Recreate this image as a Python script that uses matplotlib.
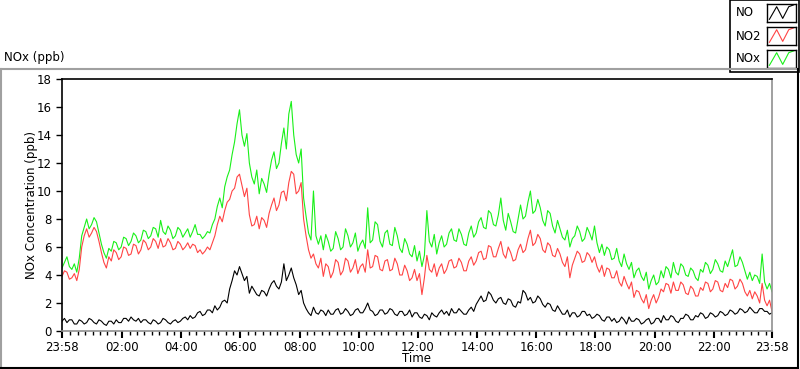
import matplotlib
matplotlib.use("Agg")
import matplotlib.pyplot as plt
import numpy as np
from matplotlib.lines import Line2D
from matplotlib.patches import Rectangle

# readings every 5 minutes, starting 23:58
no_ppb = [0.7, 0.9, 0.6, 0.8, 0.8, 0.5, 0.5, 0.8, 0.7, 0.5,
          0.6, 0.9, 0.8, 0.6, 0.5, 0.8, 0.7, 0.5, 0.4, 0.7,
          0.7, 0.5, 0.8, 0.6, 0.6, 0.9, 0.9, 0.7, 1.0, 0.8,
          0.7, 0.9, 0.6, 0.8, 0.8, 0.6, 0.5, 0.8, 0.7, 0.5,
          0.6, 0.9, 0.8, 0.6, 0.5, 0.7, 0.8, 0.6, 0.7, 0.9,
          1.0, 0.8, 1.1, 0.9, 1.0, 1.3, 1.4, 1.1, 1.2, 1.5,
          1.5, 1.3, 1.8, 1.5, 1.7, 2.1, 2.2, 2.0, 3.0, 3.6,
          4.3, 4.0, 4.6, 4.1, 3.6, 3.9, 2.7, 3.2, 2.9, 2.6,
          2.5, 2.9, 2.8, 2.5, 3.0, 3.4, 3.6, 3.2, 3.0, 3.5,
          4.8, 3.6, 4.0, 4.5, 3.8, 3.3, 2.6, 2.9, 2.0, 1.6,
          1.3, 1.1, 1.7, 1.3, 1.2, 1.5, 1.4, 1.1, 1.5, 1.2,
          1.2, 1.5, 1.6, 1.2, 1.3, 1.6, 1.4, 1.1, 1.2, 1.5,
          1.6, 1.3, 1.3, 1.6, 2.0, 1.5, 1.4, 1.1, 1.2, 1.5,
          1.5, 1.2, 1.3, 1.6, 1.5, 1.2, 1.1, 1.4, 1.4, 1.1,
          1.2, 1.5, 1.0, 1.3, 1.3, 1.0, 0.9, 1.2, 1.1, 0.8,
          1.3, 1.1, 1.0, 1.3, 1.5, 1.2, 1.4, 1.1, 1.6, 1.3,
          1.3, 1.6, 1.4, 1.2, 1.2, 1.5, 1.7, 1.4, 1.9, 2.2,
          2.5, 2.1, 2.2, 2.8, 2.6, 2.2, 2.0, 2.3, 2.4, 2.0,
          1.9, 2.3, 2.2, 1.8, 1.7, 2.1, 2.0, 2.9, 2.7, 2.2,
          2.4, 2.0, 2.1, 2.5, 2.3, 1.9, 1.7, 2.0, 1.9, 1.5,
          1.4, 1.8, 1.5, 1.2, 1.2, 1.5, 1.0, 1.3, 1.3, 1.0,
          1.1, 1.4, 1.4, 1.1, 1.2, 0.9, 1.0, 1.2, 1.1, 0.8,
          0.7, 1.0, 1.0, 0.7, 0.9, 0.6, 0.7, 1.0, 0.8, 0.5,
          1.0, 0.7, 0.7, 0.9, 0.8, 0.5, 0.6, 0.8, 0.9, 0.5,
          0.6, 0.9, 0.9, 0.6, 1.1, 0.8, 0.8, 1.1, 1.0, 0.7,
          0.6, 0.9, 0.9, 1.2, 1.1, 0.8, 0.8, 1.1, 1.0, 1.3,
          1.2, 0.9, 1.0, 1.3, 1.2, 1.0, 1.1, 1.4, 1.3, 1.1,
          1.2, 1.5, 1.4, 1.2, 1.3, 1.6, 1.5, 1.3, 1.4, 1.7,
          1.5, 1.3, 1.3, 1.6, 1.6, 1.4, 1.4, 1.2, 1.3]

no2_ppb = [3.9, 4.3, 4.2, 3.7, 3.8, 4.1, 3.6, 4.4, 6.0, 6.8,
           7.3, 6.7, 7.0, 7.4, 7.1, 6.4, 5.6, 4.9, 4.5, 5.3,
           5.0, 5.8, 5.6, 5.1, 5.3, 6.0, 5.9, 5.4, 5.5, 6.2,
           6.1, 5.5, 5.8, 6.5, 6.3, 5.8, 6.0, 6.6, 6.4, 5.9,
           6.6, 6.0, 6.1, 6.6, 6.3, 5.8, 5.9, 6.4, 6.2, 5.8,
           6.0, 6.3, 5.9, 6.2, 6.1, 5.6, 5.8, 5.5, 5.7, 6.0,
           5.8, 6.3, 6.8, 7.6, 8.2, 7.8, 8.6, 9.2, 9.4, 10.0,
           10.2, 11.0, 11.2, 10.4, 9.6, 10.2, 8.3, 7.5, 7.6, 8.2,
           7.3, 8.1, 7.9, 7.4, 8.4, 9.0, 9.5, 8.6, 9.0, 9.9,
           10.0, 9.3, 10.6, 11.4, 11.2, 9.8, 10.0, 10.6, 8.0, 6.8,
           5.8, 5.2, 5.5, 4.8, 4.5, 5.2, 3.9, 4.8, 4.6, 3.8,
           4.2, 5.1, 4.9, 4.0, 4.3, 5.2, 5.0, 4.2, 4.5, 5.1,
           4.1, 4.6, 4.8, 4.2, 5.8, 4.5, 4.6, 5.4, 5.3, 4.4,
           4.3, 5.0, 5.1, 4.3, 4.4, 5.2, 4.8, 4.0, 4.0, 4.7,
           4.3, 3.6, 3.8, 4.4, 3.6, 4.1, 2.6, 3.8, 5.4, 4.4,
           4.2, 4.8, 3.9, 4.5, 4.8, 4.1, 4.4, 5.0, 5.1, 4.5,
           4.6, 5.2, 4.9, 4.3, 4.3, 5.0, 5.3, 4.7, 5.0, 5.6,
           5.7, 5.1, 5.2, 6.1, 6.0, 5.3, 5.3, 5.9, 6.4, 5.5,
           5.2, 6.0, 5.6, 5.0, 5.1, 5.8, 6.2, 5.6, 5.8, 6.6,
           7.2, 6.1, 6.3, 6.9, 6.6, 5.8, 5.6, 6.3, 6.1, 5.4,
           5.3, 5.9, 5.5, 4.9, 4.6, 5.3, 3.8, 4.7, 5.2, 5.7,
           5.5, 4.9, 5.0, 5.6, 5.4, 4.9, 5.3, 4.6, 4.2, 4.7,
           3.9, 4.5, 4.4, 3.8, 3.8, 4.3, 3.5, 3.2, 3.9, 3.4,
           3.0, 3.5, 2.4, 2.9, 2.8, 2.3, 2.0, 2.6, 1.6, 2.2,
           2.6, 2.0, 2.4, 3.0, 2.8, 3.4, 3.3, 2.7, 3.5, 2.9,
           2.9, 3.5, 3.3, 2.7, 2.6, 3.2, 3.0, 2.5, 2.5, 3.1,
           2.9, 3.5, 3.4, 2.8, 3.0, 3.6, 3.5, 2.9, 2.8, 3.4,
           3.1, 3.7, 3.6, 3.0, 3.2, 3.7, 3.4, 2.8, 2.5, 2.9,
           2.3, 2.8, 2.5, 2.0, 3.4, 2.2, 1.8, 2.2, 1.4]

nox_ppb = [4.5, 4.9, 5.3, 4.6, 4.4, 4.8, 4.2, 5.2, 6.8, 7.4,
           8.0, 7.3, 7.6, 8.1, 7.8, 7.0, 6.2, 5.6, 5.2, 5.9,
           5.7, 6.4, 6.3, 5.8, 6.0, 6.7, 6.6, 6.1, 6.4, 7.0,
           6.8, 6.3, 6.5, 7.2, 7.1, 6.6, 6.8, 7.4, 7.3, 6.7,
           7.9, 7.1, 6.9, 7.5, 7.2, 6.6, 6.8, 7.4, 7.2, 6.7,
           7.0, 7.3, 6.7, 7.1, 7.6, 6.9, 6.9, 6.6, 6.8, 7.1,
           7.0, 7.6, 8.0, 8.9, 9.5, 8.8, 10.3, 11.0, 11.5, 12.6,
           13.5, 14.8, 15.8, 14.0, 13.2, 14.1, 12.0, 11.0, 10.5, 11.5,
           9.8, 10.9, 10.5, 9.9, 11.2, 12.2, 12.8, 11.6, 12.0, 13.4,
           14.5, 13.0, 15.5, 16.4, 14.0, 12.6, 12.0, 13.0, 9.5, 8.2,
           7.0, 6.5, 10.0, 6.8, 6.2, 6.8, 5.8, 6.9, 6.4, 5.7,
           5.9, 7.1, 6.6, 5.8, 6.0, 7.3, 6.8, 6.0, 6.3, 7.0,
           5.7, 6.2, 6.5, 5.9, 8.8, 6.3, 6.5, 7.8, 7.6, 6.4,
           6.0, 7.0, 7.2, 6.2, 6.1, 7.4, 6.8, 5.9, 5.6, 6.6,
           6.2, 5.5, 5.3, 6.1, 5.0, 5.7, 4.6, 5.4, 8.6, 6.4,
           6.0, 6.9, 5.5, 6.3, 6.8, 6.0, 6.2, 7.0, 7.3, 6.5,
           6.4, 7.3, 6.9, 6.2, 6.1, 7.0, 7.5, 6.7, 7.0, 7.8,
           8.1, 7.4, 7.3, 8.6, 8.4, 7.6, 7.5, 8.3, 9.5, 7.9,
           7.2, 8.4, 7.8, 7.1, 7.0, 8.0, 9.0, 8.0, 8.2, 9.2,
           10.0, 8.4, 8.6, 9.4, 8.8, 7.9, 7.5, 8.6, 8.4, 7.5,
           7.0, 7.9, 7.3, 6.7, 6.5, 7.2, 6.0, 6.6, 6.8, 7.5,
           7.1, 6.4, 6.6, 7.4, 7.0, 6.5, 7.5, 6.3, 5.6, 6.2,
           5.4, 6.0, 5.8, 5.1, 5.2, 5.9, 5.0, 4.6, 5.5, 4.8,
           4.4, 4.9, 3.8, 4.3, 4.5, 3.9, 3.6, 4.2, 3.0, 3.6,
           4.0, 3.3, 3.5, 4.3, 3.8, 4.6, 4.4, 3.8, 4.9, 4.2,
           4.0, 4.8, 4.6, 4.0, 3.9, 4.5, 4.3, 3.8, 3.6, 4.4,
           4.2, 4.9, 4.7, 4.1, 4.4, 5.1, 4.8, 4.3, 4.2, 5.0,
           4.6, 5.2, 5.8, 4.6, 4.7, 5.3, 4.9, 4.3, 3.7, 4.2,
           3.6, 4.0, 3.9, 3.4, 5.5, 3.5, 3.0, 3.4, 2.8]

tick_labels = ["23:58", "02:00", "04:00", "06:00", "08:00", "10:00", "12:00",
               "14:00", "16:00", "18:00", "20:00", "22:00", "23:58"]

W, H = 800, 369


def fx(x):
    return x / W


def fy(y):
    return 1 - y / H


minutes = np.arange(len(nox_ppb)) * 5  # minutes after 23:58

fig = plt.figure(figsize=(8, 3.69), dpi=100)
fig.patch.set_facecolor("white")

# outer panel frame
fig.add_artist(Line2D([fx(1), fx(1)], [fy(69), fy(368)], color="#a0a0a0", lw=1.5))
fig.add_artist(Line2D([fx(1), fx(798)], [fy(69), fy(69)], color="#a0a0a0", lw=1.5))
fig.add_artist(Line2D([fx(1), fx(798)], [fy(368), fy(368)], color="black", lw=1.5))
fig.add_artist(Line2D([fx(798), fx(798)], [fy(69), fy(368)], color="black", lw=1.5))
fig.text(fx(4), fy(58), "NOx (ppb)", fontsize=8.5, va="center", ha="left")

ax = fig.add_axes([fx(62), fy(331), 710 / W, 252 / H])
ax.plot(minutes, nox_ppb, color="#19f019", lw=0.8)
ax.plot(minutes, no2_ppb, color="#ff4444", lw=0.8)
ax.plot(minutes, no_ppb, color="black", lw=0.8)

ax.set_xlim(0, 1440)
ax.set_ylim(0, 18)
ax.set_yticks(range(0, 19, 2))
major = [0] + [122 + 120 * i for i in range(11)] + [1440]
ax.set_xticks(major)
ax.set_xticklabels(tick_labels)
ax.set_xticks([17 + 15 * i for i in range(95) if (17 + 15 * i - 2) % 120 != 0], minor=True)
ax.tick_params(axis="both", labelsize=8.5, direction="out", length=4, width=1)
ax.tick_params(axis="x", which="minor", length=3, width=1)
ax.tick_params(axis="x", which="major", length=5, width=1.5, pad=2)
ax.spines["left"].set_color("black")
ax.spines["top"].set_color("black")
ax.spines["right"].set_color("#909090")
ax.spines["bottom"].set_color("#909090")
for s in ax.spines.values():
    s.set_linewidth(1.2)
ax.set_xlabel("Time", fontsize=8.5, labelpad=-1)
ax.set_ylabel("NOx Concentration (ppb)", fontsize=8.5, labelpad=-1)

# legend panel
fig.add_artist(Rectangle((fx(730), fy(72)), 69 / W, 72 / H, transform=fig.transFigure,
                         facecolor="white", edgecolor="black", lw=1.2, zorder=-1))
names = ["NO", "NO2", "NOx"]
colors = ["black", "#ff4444", "#19f019"]
for i, (name, c) in enumerate(zip(names, colors)):
    yc = 13 + 23 * i
    fig.text(fx(736), fy(yc), name, fontsize=8.5, va="center", ha="left")
    sw = fig.add_axes([fx(767), fy(yc + 9), 29 / W, 18 / H])
    sw.plot([0, 0.3, 0.55, 0.8, 1.0], [0.15, 0.85, 0.2, 0.85, 0.95], color=c, lw=0.8)
    sw.set_xlim(-0.1, 1.1)
    sw.set_ylim(0, 1)
    sw.set_xticks([])
    sw.set_yticks([])
    for s in sw.spines.values():
        s.set_linewidth(1)

fig.savefig("out.png", dpi=100)
